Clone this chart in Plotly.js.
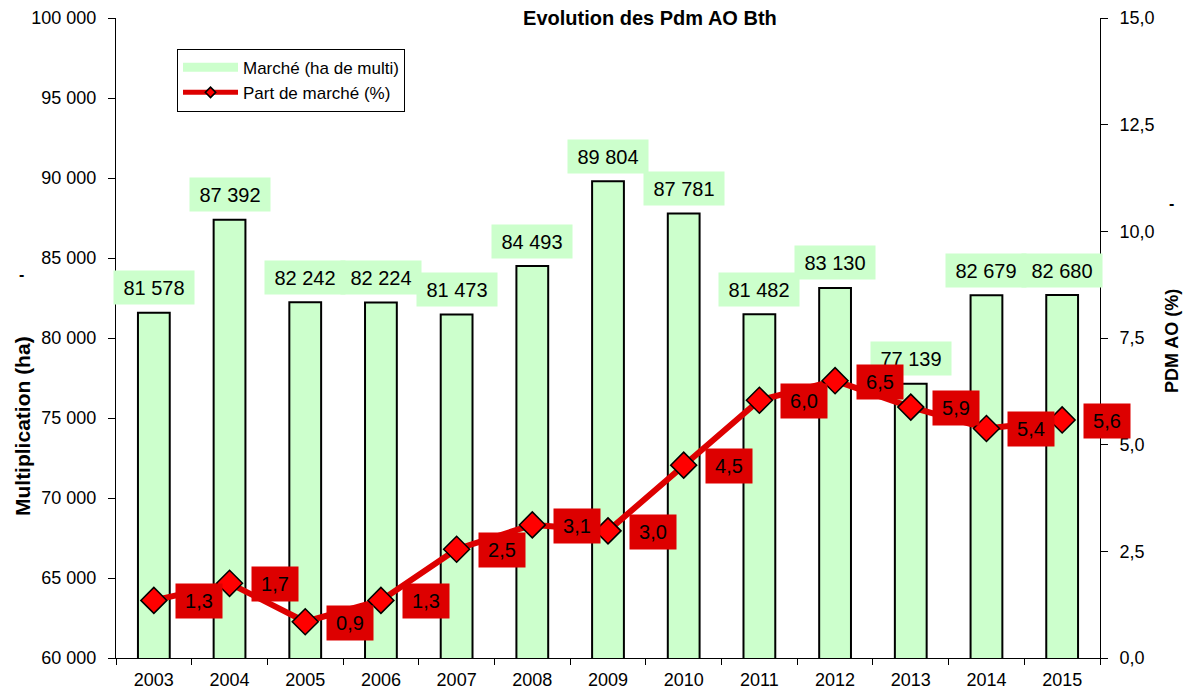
<!DOCTYPE html>
<html>
<head>
<meta charset="utf-8">
<script src="https://cdn.plot.ly/plotly-3.0.1.min.js"></script>
<style>html,body{margin:0;padding:0;background:#fff;}#chart{width:1186px;height:695px;}</style>
</head>
<body>
<div id="chart"></div>
<script>
const years = ["2003","2004","2005","2006","2007","2008","2009","2010","2011","2012","2013","2014","2015"];
const marche = [81578, 87392, 82242, 82224, 81473, 84493, 89804, 87781, 81482, 83130, 77139, 82679, 82680];
const marcheLabels = ["81 578","87 392","82 242","82 224","81 473","84 493","89 804","87 781","81 482","83 130","77 139","82 679","82 680"];
const partMarche = [1.35, 1.75, 0.85, 1.35, 2.55, 3.12, 2.98, 4.52, 6.04, 6.5, 5.88, 5.38, 5.58];
const partLabels = ["1,3","1,7","0,9","1,3","2,5","3,1","3,0","4,5","6,0","6,5","5,9","5,4","5,6"];

const FONT = "Liberation Sans, Arial, sans-serif";
const RED = "#dd0000";
const GREEN = "#ccffcc";

const traces = [
  {
    type: "bar", name: "Marché (ha de multi)", x: years, y: marche,
    width: 0.42, showlegend: false,
    marker: {color: GREEN, line: {color: "#000", width: 2}},
    hoverinfo: "skip"
  },
  {
    type: "scatter", mode: "lines+markers", name: "Part de marché (%)",
    x: years, y: partMarche, yaxis: "y2", showlegend: false,
    line: {color: RED, width: 6},
    marker: {symbol: "diamond", size: 20, color: "#ff0000", line: {color: "#000", width: 1.5}},
    hoverinfo: "skip"
  },
  // legend-only entries (no data points)
  {
    type: "scatter", mode: "lines", name: "Marché (ha de multi)", x: [null], y: [null],
    line: {color: GREEN, width: 9}, showlegend: true, hoverinfo: "skip"
  },
  {
    type: "scatter", mode: "lines+markers", name: "Part de marché (%)", x: [null], y: [null], yaxis: "y2",
    line: {color: RED, width: 5},
    marker: {symbol: "diamond", size: 8, color: "#ff0000", line: {color: "#000", width: 1.5}},
    showlegend: true, hoverinfo: "skip"
  }
];

const annotations = [];
years.forEach((yr, i) => {
  annotations.push({
    x: i, y: marche[i], xref: "x", yref: "y", text: marcheLabels[i],
    showarrow: false, yshift: 25, bgcolor: GREEN, borderpad: 5, width: 70, height: 23,
    font: {family: FONT, size: 20, color: "#000"}
  });
});
years.forEach((yr, i) => {
  annotations.push({
    x: i, y: partMarche[i], xref: "x", yref: "y2", text: partLabels[i],
    showarrow: false, xshift: 45, yshift: -1, bgcolor: RED, borderpad: 5, width: 36, height: 24,
    font: {family: FONT, size: 20, color: "#000"}
  });
});
// axis titles & small dashes
annotations.push({xref: "paper", yref: "paper", x: -0.0955, y: 0.3625, xanchor: "center", yanchor: "middle",
  text: "<b>Multiplication (ha)</b>", textangle: -90, showarrow: false, font: {family: FONT, size: 21, color: "#000"}});
annotations.push({xref: "paper", yref: "paper", x: 1.073, y: 0.495, xanchor: "center", yanchor: "middle",
  text: "<b>PDM AO (%)</b>", textangle: -90, showarrow: false, font: {family: FONT, size: 18, color: "#000"}});
annotations.push({xref: "paper", yref: "paper", x: -0.096, y: 0.6, xanchor: "center", yanchor: "middle",
  text: "<b>-</b>", showarrow: false, font: {family: FONT, size: 16, color: "#000"}});
annotations.push({xref: "paper", yref: "paper", x: 1.073, y: 0.71, xanchor: "center", yanchor: "middle",
  text: "<b>-</b>", showarrow: false, font: {family: FONT, size: 16, color: "#000"}});

const tickBase = {showgrid: false, zeroline: false, tickcolor: "#000", linecolor: "#000", linewidth: 1,
  tickfont: {family: FONT, size: 18, color: "#000"}, fixedrange: true};

const layout = {
  width: 1186, height: 695,
  margin: {l: 116, r: 86, t: 18, b: 37},
  paper_bgcolor: "#fff", plot_bgcolor: "rgba(0,0,0,0)",
  separators: ", ",
  font: {family: FONT, size: 18, color: "#000"},
  title: {text: "<b>Evolution des Pdm AO Bth</b>", x: 0.548, xanchor: "center", xref: "container",
    y: 0.974, yanchor: "middle", yref: "container", font: {family: FONT, size: 20, color: "#000"}},
  showlegend: true,
  legend: {x: 0.062, y: 0.952, xanchor: "left", yanchor: "top", bordercolor: "#000", borderwidth: 1,
    bgcolor: "#fff", font: {family: FONT, size: 17, color: "#000"}, tracegroupgap: 0, itemwidth: 55},
  xaxis: Object.assign({}, tickBase, {type: "category", range: [-0.5, 12.5], showline: true, ticks: "outside",
    tickson: "boundaries", ticklen: 6, tickangle: 0, ticklabelstandoff: 5}),
  yaxis: Object.assign({}, tickBase, {range: [60000, 100000], dtick: 5000, tickformat: ",d", showline: true,
    ticks: "outside", ticklen: 7, ticklabelstandoff: 8}),
  yaxis2: Object.assign({}, tickBase, {range: [0, 15], dtick: 2.5, tickformat: ".1f", overlaying: "y", side: "right",
    showline: true, ticks: "outside", ticklen: 7, ticklabelstandoff: 8}),
  annotations: annotations
};

Plotly.newPlot("chart", traces, layout, {staticPlot: true});
</script>
</body>
</html>
